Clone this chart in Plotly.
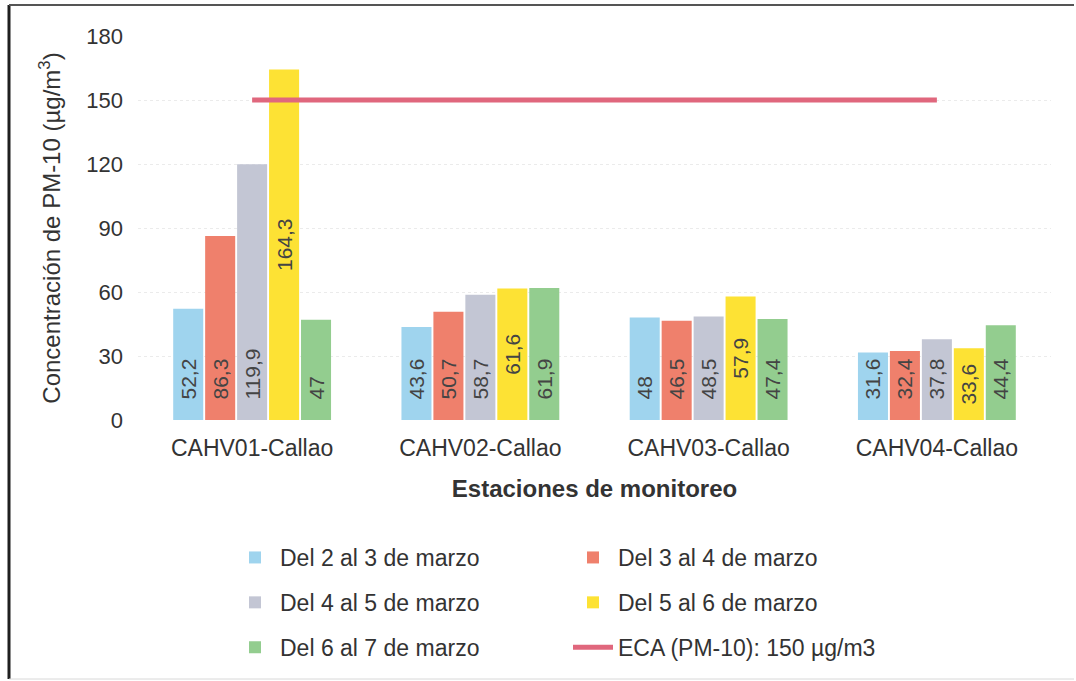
import plotly.graph_objects as go

# Monitoring stations and PM-10 concentrations (µg/m³) per sampling period
stations = ["CAHV01-Callao", "CAHV02-Callao", "CAHV03-Callao", "CAHV04-Callao"]
periods = [
    "Del 2 al 3 de marzo",
    "Del 3 al 4 de marzo",
    "Del 4 al 5 de marzo",
    "Del 5 al 6 de marzo",
    "Del 6 al 7 de marzo",
]
del_2_3 = [52.2, 43.6, 48.0, 31.6]
del_3_4 = [86.3, 50.7, 46.5, 32.4]
del_4_5 = [119.9, 58.7, 48.5, 37.8]
del_5_6 = [164.3, 61.6, 57.9, 33.6]
del_6_7 = [47.0, 61.9, 47.4, 44.4]
eca_limit = 150
eca_name = "ECA (PM-10): 150 µg/m3"
y_ticks = [0, 30, 60, 90, 120, 150, 180]

series = [del_2_3, del_3_4, del_4_5, del_5_6, del_6_7]
colors = ["#9fd4ee", "#ef806c", "#c3c6d4", "#fde234", "#93cd8f"]
# which legend column each series goes in
legend_cols = ["legend", "legend2", "legend", "legend2", "legend"]
# label anchor inside each bar
anchors = ["start", "start", "start", "middle", "start"]

FONT = "Liberation Sans, Arial, sans-serif"
TXT = "#333333"


def fmt(v):
    return f"{v:g}".replace(".", ",")


fig = go.Figure()

for name, vals, col, leg, anc in zip(periods, series, colors, legend_cols, anchors):
    pad = "\u00a0\u00a0\u00a0" if anc == "start" else ""
    fig.add_trace(go.Bar(
        x=stations,
        y=vals,
        name=name,
        marker=dict(color=col, line=dict(width=0)),
        text=[pad + fmt(v) for v in vals],
        textposition="inside",
        insidetextanchor=anc,
        textangle=-90,
        constraintext="none",
        textfont=dict(family=FONT, size=21, color="#444444"),
        legend=leg,
        legendgroup=name,
    ))

fig.add_trace(go.Scatter(
    x=stations,
    y=[eca_limit] * len(stations),
    mode="lines",
    name=eca_name,
    line=dict(color="#e0677d", width=5),
    legend="legend2",
    legendgroup="eca",
))

# plot-area geometry in pixels
W, H = 1076, 681
L, R, T, B = 138, 25, 36, 261
pw, ph = W - L - R, H - T - B

legend_common = dict(
    orientation="v",
    yanchor="top",
    xanchor="left",
    tracegroupgap=12,
    font=dict(family=FONT, size=23, color=TXT),
    bgcolor="rgba(0,0,0,0)",
    itemwidth=40,
    traceorder="grouped",
)

fig.update_layout(
    width=W,
    height=H,
    margin=dict(l=L, r=R, t=T, b=B, autoexpand=False),
    paper_bgcolor="white",
    plot_bgcolor="white",
    barmode="group",
    bargap=0.3,
    bargroupgap=0.06,
    font=dict(family=FONT, color=TXT),
    showlegend=True,
    legend=dict(x=(230 - L) / pw, y=-(536 - (H - B)) / ph, **legend_common),
    legend2=dict(x=(568 - L) / pw, y=-(536 - (H - B)) / ph, **legend_common),
    xaxis=dict(
        showline=False,
        ticks="",
        ticklabelstandoff=12,
        tickfont=dict(family=FONT, size=23, color=TXT),
        title=dict(text="Estaciones de monitoreo",
                   font=dict(family=FONT, size=24, color=TXT, weight="bold"),
                   standoff=20),
    ),
    yaxis=dict(
        range=[0, 180],
        tickvals=y_ticks,
        ticktext=[str(v) for v in y_ticks],
        showgrid=True,
        gridcolor="#ebebeb",
        griddash="dot",
        gridwidth=1,
        zeroline=False,
        showline=False,
        ticks="",
        ticklabelstandoff=14,
        tickfont=dict(family=FONT, size=22, color=TXT),
        title=dict(text="Concentración de PM-10 (µg/m<sup>3</sup>)",
                   font=dict(family=FONT, size=24, color=TXT),
                   standoff=18),
    ),
    shapes=[
        # left frame edge
        dict(type="line", xref="paper", yref="paper",
             x0=-(L - 9) / pw, x1=-(L - 9) / pw,
             y0=-(B - 2) / ph, y1=1 + (T - 5) / ph,
             line=dict(color="#1f1f1f", width=3)),
        # top frame edge
        dict(type="line", xref="paper", yref="paper",
             x0=-(L - 9) / pw, x1=1 + (R - 2) / pw,
             y0=1 + (T - 5) / ph, y1=1 + (T - 5) / ph,
             line=dict(color="#555555", width=2)),
        # bottom frame edge
        dict(type="line", xref="paper", yref="paper",
             x0=-(L - 9) / pw, x1=1 + (R - 2) / pw,
             y0=-(B - 2) / ph, y1=-(B - 2) / ph,
             line=dict(color="#d8d8d8", width=1)),
    ],
)

fig.write_html("out.html")
